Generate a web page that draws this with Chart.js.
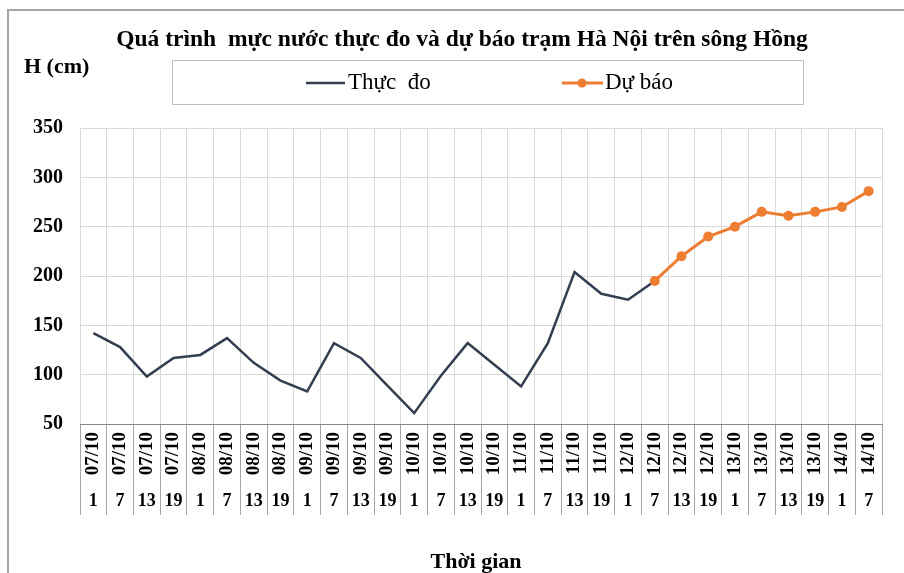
<!DOCTYPE html>
<html>
<head>
<meta charset="utf-8">
<script src="https://cdn.jsdelivr.net/npm/chart.js@4.4.1/dist/chart.umd.min.js"></script>
<style>
html,body{margin:0;padding:0;background:#fff;}
#wrap{width:904px;height:573px;position:relative;}
</style>
</head>
<body>
<div id="wrap"><canvas id="c" width="904" height="573"></canvas></div>
<script>
const dateLabels = ['07/10','07/10','07/10','07/10','08/10','08/10','08/10','08/10','09/10','09/10','09/10','09/10','10/10','10/10','10/10','10/10','11/10','11/10','11/10','11/10','12/10','12/10','12/10','12/10','13/10','13/10','13/10','13/10','14/10','14/10'];
const hourLabels = ['1','7','13','19','1','7','13','19','1','7','13','19','1','7','13','19','1','7','13','19','1','7','13','19','1','7','13','19','1','7'];
const observed = [142,128,98,117,120,137,112,94,83,132,117,89,61,99,132,110,88,132,204,182,176,195];
const forecast = [195,220,240,250,265,261,265,270,286];
const forecastStart = 21;
const yTicks = [50,100,150,200,250,300,350];

const SERIF = '"Liberation Serif", "Times New Roman", serif';
const obsData = dateLabels.map((_, i) => i < observed.length ? observed[i] : null);
const fcData = dateLabels.map((_, i) => (i >= forecastStart && i - forecastStart < forecast.length) ? forecast[i - forecastStart] : null);

const decor = {
  id: 'decor',
  beforeDraw(chart) {
    const ctx = chart.ctx;
    ctx.save();
    ctx.fillStyle = '#fff';
    ctx.fillRect(0, 0, chart.width, chart.height);
    ctx.strokeStyle = '#a6a6a6';
    ctx.lineWidth = 2;
    ctx.strokeRect(8, 10, 920, 600);
    ctx.restore();
  },
  afterDraw(chart) {
    const ctx = chart.ctx;
    const ds = chart.data.datasets;
    ctx.save();
    ctx.fillStyle = '#000';
    ctx.textBaseline = 'middle';
    ctx.textAlign = 'center';
    ctx.font = 'bold 23.5px ' + SERIF;
    ctx.fillText('Quá trình  mực nước thực đo và dự báo trạm Hà Nội trên sông Hồng', 462, 40);
    ctx.textAlign = 'left';
    ctx.font = 'bold 22px ' + SERIF;
    ctx.fillText('H (cm)', 24, 67);
    // legend box
    ctx.strokeStyle = '#bfbfbf';
    ctx.lineWidth = 1;
    ctx.strokeRect(172.5, 60.5, 631, 44);
    // legend item 1
    ctx.strokeStyle = ds[1].borderColor;
    ctx.lineWidth = 2.5;
    ctx.beginPath(); ctx.moveTo(306, 83); ctx.lineTo(345, 83); ctx.stroke();
    ctx.font = '23px ' + SERIF;
    ctx.fillStyle = '#000';
    ctx.fillText(ds[1].label, 348, 83);
    // legend item 2
    ctx.strokeStyle = ds[0].borderColor;
    ctx.lineWidth = 3;
    ctx.beginPath(); ctx.moveTo(562, 83); ctx.lineTo(603, 83); ctx.stroke();
    ctx.fillStyle = ds[0].backgroundColor;
    ctx.beginPath(); ctx.arc(582, 83, 4.5, 0, Math.PI * 2); ctx.fill();
    ctx.fillStyle = '#000';
    ctx.fillText(ds[0].label, 605, 83);
    // axis title
    ctx.textAlign = 'center';
    ctx.font = 'bold 22px ' + SERIF;
    ctx.fillText('Thời gian', 476, 562);
    ctx.restore();
  }
};

new Chart(document.getElementById('c'), {
  type: 'line',
  data: {
    labels: dateLabels,
    datasets: [
      {
        label: 'Dự báo',
        data: fcData,
        borderColor: '#ed7d31',
        backgroundColor: '#ed7d31',
        borderWidth: 3,
        pointRadius: 5,
        pointBorderWidth: 0,
        pointBackgroundColor: '#ed7d31',
        tension: 0,
        order: 0
      },
      {
        label: 'Thực  đo',
        data: obsData,
        borderColor: '#333f50',
        backgroundColor: '#333f50',
        borderWidth: 2.5,
        pointRadius: 0,
        tension: 0,
        order: 1
      }
    ]
  },
  options: {
    responsive: false,
    animation: false,
    devicePixelRatio: 1,
    layout: { padding: { left: 20, right: 22, top: 128, bottom: 55 } },
    plugins: {
      legend: { display: false },
      title: { display: false },
      tooltip: { enabled: false }
    },
    scales: {
      x: {
        type: 'category',
        position: 'bottom',
        weight: 0,
        offset: true,
        grid: { offset: true, color: '#d9d9d9', lineWidth: 1, drawTicks: true, tickLength: 91, tickColor: '#a6a6a6', tickWidth: 1 },
        border: { display: true, color: '#868686', width: 1 },
        ticks: { autoSkip: false, minRotation: 90, maxRotation: 90, padding: -83, color: '#000', font: { family: SERIF, weight: 'bold', size: 19 } },
        afterFit: (s) => { s.height = 62; }
      },
      x2: {
        type: 'category',
        labels: hourLabels,
        position: 'bottom',
        weight: 1,
        offset: true,
        grid: { display: false, drawTicks: false },
        border: { display: false },
        ticks: { autoSkip: false, minRotation: 0, maxRotation: 0, padding: 5, color: '#000', font: { family: SERIF, weight: 'bold', size: 18 } },
        afterFit: (s) => { s.height = 32; }
      },
      y: {
        min: 50,
        max: 350,
        afterBuildTicks: (s) => { s.ticks = yTicks.map(v => ({ value: v })); },
        grid: { color: '#d9d9d9', lineWidth: 1, drawTicks: false },
        border: { display: false },
        ticks: { padding: 17, color: '#000', font: { family: SERIF, weight: 'bold', size: 20 } },
        afterFit: (s) => { s.width = 60; }
      }
    }
  },
  plugins: [decor]
});
</script>
</body>
</html>
